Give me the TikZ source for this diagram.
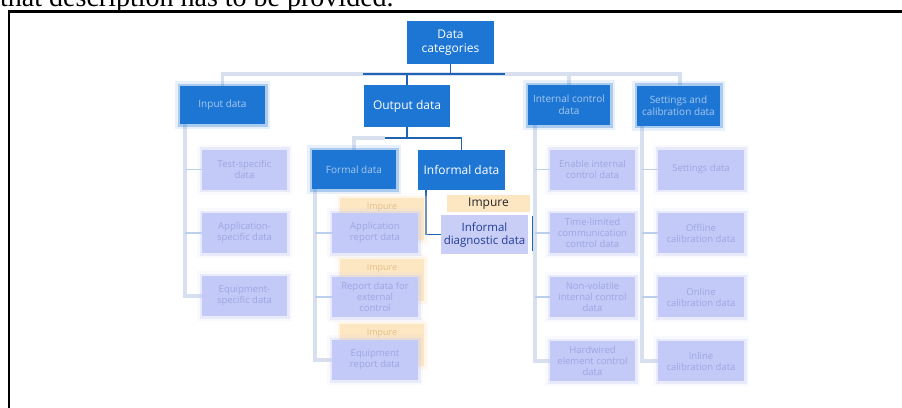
\documentclass[tikz,border=0pt]{standalone}
\usepackage{fontspec}
\setmainfont{Open Sans}
\newfontfamily\leadface{Liberation Serif}
\usetikzlibrary{backgrounds}

\definecolor{catblue}{RGB}{30,118,212}
\definecolor{lav}{RGB}{196,202,247}
\definecolor{lavsharp}{RGB}{201,206,246}
\definecolor{impure}{RGB}{253,230,194}
\definecolor{wire}{RGB}{216,224,240}
\definecolor{wiredk}{RGB}{32,98,180}
\definecolor{navytext}{RGB}{34,60,150}
\definecolor{leaftext}{RGB}{156,166,226}
\definecolor{tagtext}{RGB}{228,190,136}

\tikzset{
  soft/.style={preaction={draw=#1,line width=5pt,draw opacity=0.3},
               preaction={draw=#1,line width=10pt,draw opacity=0.1}},
  head/.style={rectangle, fill=catblue, text=white, align=center, inner sep=1pt,
               minimum width=85pt, minimum height=40pt,
               font=\fontsize{12}{14}\selectfont},
  headblur/.style={head, soft=catblue, text=white!60!catblue,
               font=\fontsize{10}{12}\selectfont},
  leaf/.style={rectangle, fill=lav, soft=lav, text=leaftext, align=center,
               inner sep=1pt, minimum width=86pt, minimum height=40pt,
               font=\fontsize{9.5}{11}\selectfont},
  tagbox/.style={rectangle, fill=impure, soft=impure, text=tagtext, inner sep=0pt,
               minimum width=84pt, text height=11pt, text depth=31pt,
               font=\fontsize{9}{11}\selectfont},
  tagsharp/.style={rectangle, fill=impure, text=black!85, inner sep=0pt,
               minimum width=83pt, minimum height=17pt,
               font=\fontsize{12}{14}\selectfont},
  diagbox/.style={rectangle, fill=lavsharp, text=navytext, align=center,
               inner sep=1pt, minimum width=87pt, minimum height=39pt,
               font=\fontsize{11.5}{13}\selectfont},
  wirelight/.style={draw=wire, line width=3.5pt},
  wiretick/.style={draw=wire!85!catblue, line width=1.4pt},
  wiredark/.style={draw=wiredk, line width=1.8pt}
}

\begin{document}
\begin{tikzpicture}[x=1pt,y=-1pt]
\useasboundingbox (0,0) rectangle (902,407);

% running text above the frame and the frame itself
\node[anchor=base west, inner sep=0pt, font=\leadface\fontsize{28}{32}\selectfont]
  (lead) at (0,6) {that description has to be provided.};
\draw[line width=2.4pt] (9,412) -- (9,11.3) -- (906,11.3);

% top levels
\node[head, minimum width=87pt, minimum height=43pt] (cat) at (450.5,42.5) {Data\\categories};
\node[headblur, minimum height=38pt] (inp) at (222.5,105) {Input data};
\node[head, minimum width=86pt, minimum height=42pt] (out) at (407,106) {Output data};
\node[headblur, minimum width=82pt] (icd) at (569,105) {Internal control\\data};
\node[headblur, minimum width=83pt] (scd) at (678.5,105.5) {Settings and\\calibration data};
\node[headblur, minimum width=84pt, minimum height=39pt] (formal) at (354,169.5) {Formal data};
\node[head, minimum width=87pt] (informal) at (461.5,170) {Informal data};

% input data
\node[leaf, minimum width=85pt] (in1) at (244.5,169.5) {Test-specific\\data};
\node[leaf, minimum width=85pt] (in2) at (244.5,233) {Application-\\specific data};
\node[leaf, minimum width=85pt] (in3) at (244.5,296) {Equipment-\\specific data};

% formal output data, each tagged as impure
\node[tagbox] (ft1) at (382,219) {Impure};
\node[tagbox] (ft2) at (382,280) {Impure};
\node[tagbox] (ft3) at (382,345) {Impure};
\node[leaf] (fo1) at (375,233) {Application\\report data};
\node[leaf] (fo2) at (375,297) {Report data for\\external\\control};
\node[leaf] (fo3) at (375,360) {Equipment\\report data};

% informal output data
\node[tagsharp] (it1) at (488.5,203.5) {Impure};
\node[diagbox] (diag) at (484.5,234.5) {Informal\\diagnostic data};

% internal control data
\node[leaf, minimum width=85pt] (ic1) at (592.5,169.5) {Enable internal\\control data};
\node[leaf, minimum width=85pt] (ic2) at (592.5,233) {Time-limited\\communication\\control data};
\node[leaf, minimum width=85pt] (ic3) at (592.5,297) {Non-volatile\\internal control\\data};
\node[leaf, minimum width=85pt] (ic4) at (592.5,361) {Hardwired\\element control\\data};

% settings and calibration data
\node[leaf] (sc1) at (701,169.5) {Settings data};
\node[leaf] (sc2) at (701,233) {Offline\\calibration data};
\node[leaf] (sc3) at (701,297) {Online\\calibration data};
\node[leaf] (sc4) at (701,361) {Inline\\calibration data};

\begin{pgfonlayer}{background}
  % main bus
  \coordinate (bus) at (450,74);
  \draw[wirelight] (inp.north) -- (inp.north |- bus) -- ([xshift=1.5pt]scd.north |- bus)
                   -- ([xshift=1.5pt]scd.north);
  \draw[wirelight] (icd.north |- bus) -- (icd.north);
  \draw[wiredark] ([xshift=-44pt]out.north |- bus) -- ([xshift=54.5pt]cat.south |- bus);
  \draw[wiredark] (cat.south) -- (cat.south |- bus);
  \draw[wiredark] (out.north |- bus) -- (out.north);

  % output data split
  \coordinate (obus) at (407,138);
  \draw[wiredark] (out.south) -- (out.south |- obus);
  \draw[wirelight] (formal.north) -- (formal.north |- obus) -- ([xshift=-22pt]out.south |- obus);
  \draw[wiredark] ([xshift=-22pt]out.south |- obus) -- (informal.north |- obus) -- (informal.north);
  \draw[wiredark] ([xshift=-35.5pt]informal.south) |- (diag.west);
  \draw[wiredark] ([xshift=5pt,yshift=-1pt]diag.north east) -- ([xshift=5pt,yshift=3pt]diag.south east);

  % branches
  \coordinate (inV) at ([xshift=5pt]inp.south west);
  \draw[wirelight] (inV) |- (in3.west);
  \draw[wiretick] (inV |- in1.west) -- (in1.west);
  \draw[wiretick] (inV |- in2.west) -- (in2.west);

  \coordinate (foV) at ([xshift=3pt]formal.south west);
  \draw[wirelight] (foV) |- (fo3.west);
  \draw[wiretick] (foV |- fo1.west) -- (fo1.west);
  \draw[wiretick] (foV |- fo2.west) -- (fo2.west);

  \coordinate (icV) at ([xshift=7pt]icd.south west);
  \draw[wirelight] (icV) |- (ic4.west);
  \draw[wiretick] (icV |- ic1.west) -- (ic1.west);
  \draw[wiretick] (icV |- ic2.west) -- (ic2.west);
  \draw[wiretick] (icV |- ic3.west) -- (ic3.west);

  \coordinate (scV) at ([xshift=5pt]scd.south west);
  \draw[wirelight] (scV) |- (sc4.west);
  \draw[wiretick] (scV |- sc1.west) -- (sc1.west);
  \draw[wiretick] (scV |- sc2.west) -- (sc2.west);
  \draw[wiretick] (scV |- sc3.west) -- (sc3.west);
\end{pgfonlayer}
\end{tikzpicture}
\end{document}
